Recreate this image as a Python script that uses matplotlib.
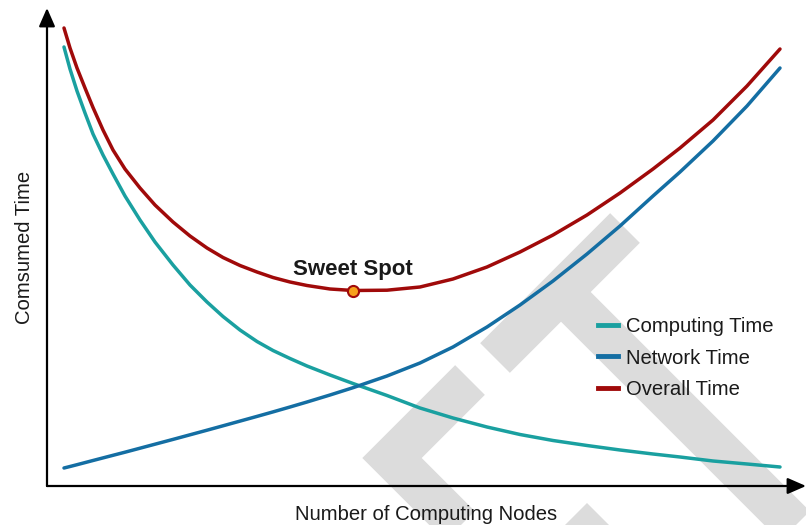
import matplotlib
matplotlib.use("Agg")
import matplotlib.pyplot as plt
from matplotlib.lines import Line2D
from matplotlib.patches import Polygon

plt.rcParams['font.family'] = ['Liberation Sans', 'DejaVu Sans']

# values (arbitrary units, no ticks on the chart)
nodes = [17, 23, 30, 38, 46, 56, 66, 78, 93, 108, 126, 143, 160, 176, 193, 210, 226,
         243, 260, 283, 306, 340, 373, 406, 440, 473, 506, 540, 573, 606, 633, 666, 700, 733]
computing_time = [439, 417, 395, 373, 352, 331, 312, 290, 266, 244, 221, 201, 184, 169.5,
                  156, 144.5, 135.5, 127.5, 120, 111, 102.5, 90.5, 78, 68, 59, 51.5, 45.5,
                  40.5, 36, 32, 29, 25, 22, 19]
network_time = [18, 19.5, 21.3, 23.4, 25.5, 28.1, 30.7, 33.8, 37.8, 41.8, 46.6, 51.2, 55.8,
                60.2, 64.9, 69.6, 74.1, 79, 84, 91, 98.3, 110, 123, 139, 159, 181, 205, 232,
                260, 290, 314, 345, 380, 418]
overall_time = [458, 438, 418, 398, 378.5, 356, 336, 317, 298, 281, 264, 250, 238, 228.5,
                220.5, 214, 208.5, 204, 200.5, 197, 195.5, 195.8, 199, 207, 219, 234, 251,
                271, 293, 317, 338, 366, 400, 437]
series_labels = ["Computing Time", "Network Time", "Overall Time"]

TEAL = "#1aa0a0"
BLUE = "#146ea3"
RED = "#a00a0a"
WM = "#dcdcdc"
TXT = "#1a1a1a"

W, H = 806, 525
fig = plt.figure(figsize=(W / 100, H / 100), dpi=100)

# background watermark, drawn in pixel space
wm = fig.add_axes([0, 0, 1, 1], zorder=0)
wm.set_xlim(0, W)
wm.set_ylim(H, 0)
wm.axis('off')
band = dict(color=WM, linewidth=42 * 0.72, solid_capstyle='butt', solid_joinstyle='miter',
            clip_on=False)
for xs, ys in [([495, 625], [358, 228]),
               ([561, 880], [292, 611]),
               ([470, 392, 490], [380, 458, 556])]:
    wm.add_line(Line2D(xs, ys, **band))
wm.add_patch(Polygon([(587, 503), (650, 566), (524, 566)], closed=True, color=WM, lw=0))

ax = fig.add_axes([47 / W, (H - 486) / H, (W - 47) / W, 478 / H], zorder=1)
ax.patch.set_alpha(0)
ax.set_xlim(0, 759)
ax.set_ylim(0, 478)
for s in ax.spines.values():
    s.set_visible(False)
ax.set_xticks([])
ax.set_yticks([])

# axes with arrow heads
arrow = dict(arrowstyle="-|>,head_length=0.8,head_width=0.35", color="black", lw=1.6,
             shrinkA=0, shrinkB=0, mutation_scale=14)
ax.annotate("", xy=(0, 1), xytext=(0, 0), xycoords='axes fraction', arrowprops=arrow,
            annotation_clip=False)
ax.annotate("", xy=(1.0, 0), xytext=(0, 0), xycoords='axes fraction', arrowprops=arrow,
            annotation_clip=False)

lw = 2.5
ax.plot(nodes, computing_time, color=TEAL, lw=lw, solid_capstyle='round', label=series_labels[0])
ax.plot(nodes, network_time, color=BLUE, lw=lw, solid_capstyle='round', label=series_labels[1])
ax.plot(nodes, overall_time, color=RED, lw=lw, solid_capstyle='round', label=series_labels[2])

# sweet spot = lowest point of the overall curve
i_min = overall_time.index(min(overall_time))
ax.plot(nodes[i_min], overall_time[i_min], 'o', ms=8, mfc="#f7a01c", mec=RED, mew=1.5, zorder=5)
ax.annotate("Sweet Spot", (nodes[i_min], overall_time[i_min]), xytext=(0, 7.5),
            textcoords='offset points', ha='center', va='bottom', fontsize=16,
            fontweight='bold', color=TXT)

ax.set_xlabel("Number of Computing Nodes", fontsize=14.6, color=TXT, labelpad=14)
ax.set_ylabel("Comsumed Time", fontsize=14.6, color=TXT, labelpad=9)

handles = [Line2D([], [], color=c, lw=3.5) for c in (TEAL, BLUE, RED)]
ax.legend(handles, series_labels, loc='upper left', bbox_to_anchor=(598 / W, 1 - 317 / H),
          bbox_transform=fig.transFigure, frameon=False, fontsize=14.6, handlelength=1.0,
          handletextpad=0.4, labelspacing=0.62, borderaxespad=0, borderpad=0,
          labelcolor=TXT)

fig.savefig("out.png", dpi=100)
